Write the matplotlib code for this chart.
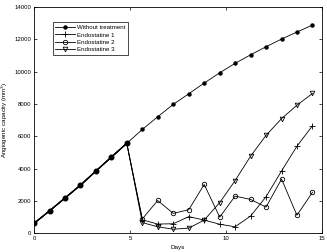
import matplotlib
matplotlib.use("Agg")
import matplotlib.pyplot as plt

plt.rcParams['font.family'] = ['Liberation Sans', 'DejaVu Sans']

days = [0.0, 0.81, 1.61, 2.42, 3.22, 4.03, 4.83, 5.64, 6.44, 7.25,
        8.06, 8.86, 9.67, 10.47, 11.28, 12.08, 12.89, 13.69, 14.5]

without = [600, 1380, 2170, 2970, 3840, 4710, 5560, 6420, 7205, 7973,
           8630, 9293, 9930, 10513, 11046, 11541, 12018, 12452, 12885]
endo1 = [600, 1380, 2170, 2970, 3840, 4710, 5560, 820, 560, 580,
         1020, 805, 550, 390, 1060, 2250, 3850, 5380, 6650]
endo2 = [600, 1380, 2170, 2970, 3840, 4710, 5560, 880, 2020, 1220,
         1450, 3015, 990, 2290, 2085, 1610, 3345, 1105, 2530]
endo3 = [600, 1380, 2170, 2970, 3840, 4710, 5560, 650, 392, 240,
         310, 805, 1890, 3250, 4770, 6050, 7090, 7920, 8652]

# treatment starts after this many shared points
n_common = 7

fig = plt.figure(figsize=(3.27, 2.52), dpi=100)
ax = fig.add_axes([0.104, 0.075, 0.881, 0.897])

lw = 0.6
after = slice(n_common, None)
ax.plot(days, without, color='black', lw=lw, marker='o', ms=2.2,
        mfc='black', label='Without treatment')
ax.plot(days, endo1, color='black', lw=lw, marker='+', ms=4, mew=0.6,
        markevery=after, label='Endostatine 1')
ax.plot(days, endo2, color='black', lw=lw, marker='o', ms=3.2, mfc='none',
        mew=0.6, markevery=after, label='Endostatine 2')
ax.plot(days, endo3, color='black', lw=lw, marker='v', ms=3.3, mfc='none',
        mew=0.6, markevery=after, label='Endostatine 3')
# overlapping curves before treatment look like one heavy line
ax.plot(days[:n_common], endo1[:n_common], color='black', lw=1.1,
        marker='o', ms=3.3)

ax.set_xlim(0, 15)
ax.set_ylim(0, 14000)
ax.set_xticks([0, 5, 10, 15])
ax.set_yticks(range(0, 14001, 2000))
ax.tick_params(direction='in', top=True, right=True, labelsize=4.3,
               length=2.5, width=0.5, pad=2)
for s in ax.spines.values():
    s.set_linewidth(0.6)

ax.set_xlabel('Days', fontsize=4.5, labelpad=3)
ax.set_ylabel('Angiogenic capacity (mm$^3$)', fontsize=4.5, labelpad=3)

leg = ax.legend(loc='upper left', bbox_to_anchor=(0.066, 0.932),
                fontsize=4.4, frameon=True, fancybox=False, edgecolor='black',
                framealpha=1, handlelength=3.2, borderpad=0.4,
                labelspacing=0.35, handletextpad=0.4, borderaxespad=0)
leg.get_frame().set_linewidth(0.5)

fig.savefig("out.png", dpi=100)
plt.close(fig)
